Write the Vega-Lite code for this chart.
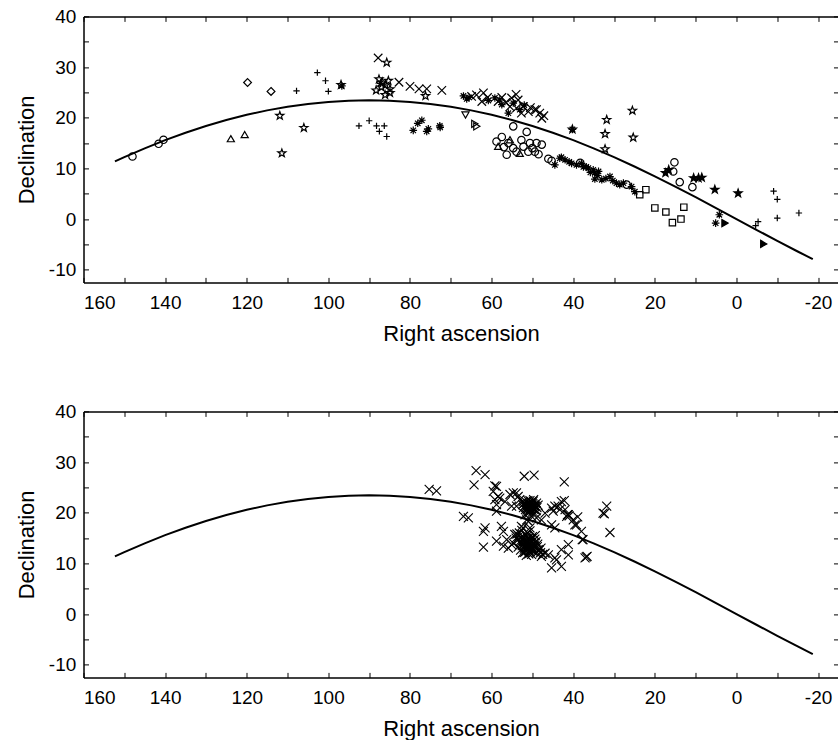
{
  "$schema": "https://vega.github.io/schema/vega-lite/v6.json",
  "padding": {"left": 14.5, "top": 7.4, "right": 0, "bottom": 0},
  "spacing": 57,
  "config": {
    "view": {"stroke": null},
    "font": "Liberation Sans",
    "axis": {
      "domainColor": "black", "domainWidth": 1.5, "tickColor": "black", "tickWidth": 1, "tickSize": -5,
      "labelColor": "black", "labelFontSize": 19, "titleColor": "black", "titleFontSize": 22,
      "titleFontWeight": "normal", "grid": false, "labelOverlap": false,
      "labelFont": "Liberation Sans", "titleFont": "Liberation Sans"
    }
  },
  "datasets": {
    "curve": [
      {"ra":152.3,"dec":11.39},{"ra":150,"dec":12.23},{"ra":145,"dec":13.96},{"ra":140,"dec":15.57},{"ra":135,"dec":17.04},
      {"ra":130,"dec":18.37},{"ra":125,"dec":19.55},{"ra":120,"dec":20.57},{"ra":115,"dec":21.45},{"ra":110,"dec":22.17},
      {"ra":105,"dec":22.72},{"ra":100,"dec":23.12},{"ra":95,"dec":23.36},{"ra":90,"dec":23.44},{"ra":85,"dec":23.36},
      {"ra":80,"dec":23.12},{"ra":75,"dec":22.72},{"ra":70,"dec":22.17},{"ra":65,"dec":21.45},{"ra":60,"dec":20.57},
      {"ra":55,"dec":19.55},{"ra":50,"dec":18.37},{"ra":45,"dec":17.04},{"ra":40,"dec":15.57},{"ra":35,"dec":13.96},
      {"ra":30,"dec":12.23},{"ra":25,"dec":10.38},{"ra":20,"dec":8.43},{"ra":15,"dec":6.40},{"ra":10,"dec":4.31},
      {"ra":5,"dec":2.16},{"ra":0,"dec":0},{"ra":-5,"dec":-2.16},{"ra":-10,"dec":-4.31},{"ra":-15,"dec":-6.40},{"ra":-18.7,"dec":-7.91}
    ],
    "top": [
      {"ra":148.0,"dec":12.35,"type":"circle"},{"ra":141.6,"dec":14.86,"type":"circle"},{"ra":140.4,"dec":15.65,"type":"circle"},
      {"ra":123.9,"dec":15.8,"type":"triup"},{"ra":120.5,"dec":16.6,"type":"triup"},
      {"ra":119.8,"dec":26.96,"type":"diamond"},{"ra":114.05,"dec":25.2,"type":"diamond"},
      {"ra":107.8,"dec":25.3,"type":"plus"},{"ra":102.7,"dec":28.9,"type":"plus"},{"ra":100.7,"dec":27.3,"type":"plus"},{"ra":100.0,"dec":25.2,"type":"plus"},
      {"ra":111.9,"dec":20.4,"type":"star"},{"ra":106.0,"dec":18.0,"type":"star"},{"ra":111.4,"dec":13.0,"type":"star"},{"ra":96.9,"dec":26.5,"type":"star"},{"ra":96.7,"dec":26.3,"type":"asterisk"},
      {"ra":92.5,"dec":18.4,"type":"plus"},{"ra":90.0,"dec":19.4,"type":"plus"},{"ra":88.2,"dec":18.4,"type":"plus"},{"ra":86.3,"dec":18.4,"type":"plus"},{"ra":87.5,"dec":17.3,"type":"plus"},{"ra":85.7,"dec":16.3,"type":"plus"},
      {"ra":87.8,"dec":31.8,"type":"x"},{"ra":85.7,"dec":30.9,"type":"star"},
      {"ra":87.6,"dec":27.6,"type":"star"},{"ra":86.8,"dec":27.0,"type":"star"},{"ra":88.3,"dec":25.4,"type":"star"},{"ra":86.0,"dec":26.45,"type":"star"},{"ra":84.9,"dec":25.66,"type":"star"},{"ra":86.1,"dec":24.5,"type":"star"},{"ra":84.9,"dec":24.9,"type":"star"},{"ra":76.2,"dec":24.3,"type":"star"},{"ra":87.0,"dec":26.0,"type":"star"},{"ra":85.3,"dec":27.3,"type":"star"},{"ra":87.2,"dec":26.8,"type":"asterisk"},
      {"ra":82.7,"dec":27.0,"type":"x"},{"ra":80.0,"dec":26.2,"type":"x"},{"ra":77.8,"dec":25.7,"type":"x"},{"ra":75.9,"dec":25.7,"type":"x"},{"ra":72.2,"dec":25.4,"type":"x"},
      {"ra":79.2,"dec":17.5,"type":"asterisk"},{"ra":78.1,"dec":18.9,"type":"asterisk"},{"ra":77.1,"dec":19.5,"type":"asterisk"},{"ra":75.5,"dec":17.8,"type":"asterisk"},{"ra":75.9,"dec":17.3,"type":"asterisk"},{"ra":72.7,"dec":18.4,"type":"asterisk"},{"ra":72.6,"dec":18.1,"type":"asterisk"},
      {"ra":66.9,"dec":24.3,"type":"asterisk"},{"ra":66.1,"dec":23.7,"type":"asterisk"},{"ra":60.8,"dec":23.4,"type":"asterisk"},{"ra":59.2,"dec":23.9,"type":"asterisk"},{"ra":57.5,"dec":22.6,"type":"asterisk"},{"ra":54.7,"dec":22.9,"type":"asterisk"},{"ra":53.1,"dec":21.6,"type":"asterisk"},{"ra":55.9,"dec":20.9,"type":"asterisk"},{"ra":65.5,"dec":24.0,"type":"asterisk"},{"ra":58.0,"dec":23.5,"type":"asterisk"},{"ra":52.0,"dec":22.5,"type":"asterisk"},
      {"ra":64.9,"dec":24.2,"type":"x"},{"ra":63.7,"dec":24.5,"type":"x"},{"ra":62.0,"dec":24.9,"type":"x"},{"ra":62.4,"dec":23.2,"type":"x"},{"ra":58.4,"dec":23.2,"type":"x"},{"ra":55.1,"dec":23.9,"type":"x"},{"ra":53.5,"dec":23.5,"type":"x"},{"ra":53.9,"dec":21.9,"type":"x"},{"ra":52.2,"dec":22.2,"type":"x"},{"ra":52.7,"dec":20.9,"type":"x"},{"ra":51.0,"dec":21.2,"type":"x"},{"ra":49.4,"dec":21.6,"type":"x"},{"ra":48.2,"dec":20.9,"type":"x"},{"ra":47.7,"dec":19.9,"type":"x"},{"ra":55.5,"dec":22.2,"type":"x"},{"ra":49.0,"dec":21.6,"type":"x"},{"ra":47.2,"dec":20.4,"type":"x"},{"ra":50.5,"dec":22.0,"type":"x"},{"ra":56.5,"dec":23.0,"type":"x"},{"ra":61.0,"dec":24.0,"type":"x"},{"ra":54.0,"dec":24.6,"type":"x"},{"ra":57.5,"dec":24.0,"type":"x"},
      {"ra":66.4,"dec":20.6,"type":"tridown"},
      {"ra":63.7,"dec":18.3,"type":"triright"},{"ra":64.2,"dec":18.8,"type":"triright"},
      {"ra":54.7,"dec":18.3,"type":"circle"},{"ra":51.4,"dec":17.2,"type":"circle"},{"ra":57.5,"dec":16.2,"type":"circle"},{"ra":58.8,"dec":15.3,"type":"circle"},{"ra":55.9,"dec":15.0,"type":"circle"},{"ra":54.7,"dec":14.0,"type":"circle"},{"ra":56.3,"dec":12.7,"type":"circle"},{"ra":52.7,"dec":15.6,"type":"circle"},{"ra":52.2,"dec":14.3,"type":"circle"},{"ra":50.6,"dec":15.0,"type":"circle"},{"ra":49.0,"dec":15.0,"type":"circle"},{"ra":47.7,"dec":14.7,"type":"circle"},{"ra":49.4,"dec":13.3,"type":"circle"},{"ra":51.0,"dec":13.3,"type":"circle"},{"ra":53.9,"dec":13.3,"type":"circle"},{"ra":46.1,"dec":11.9,"type":"circle"},{"ra":57.0,"dec":14.2,"type":"circle"},{"ra":50.0,"dec":14.0,"type":"circle"},{"ra":48.5,"dec":12.8,"type":"circle"},{"ra":45.3,"dec":11.5,"type":"circle"},{"ra":38.3,"dec":11.1,"type":"circle"},{"ra":26.9,"dec":6.8,"type":"circle"},
      {"ra":58.4,"dec":14.3,"type":"triup"},{"ra":53.1,"dec":12.9,"type":"triup"},{"ra":55.5,"dec":15.6,"type":"triup"},
      {"ra":40.2,"dec":17.7,"type":"star"},{"ra":40.2,"dec":17.7,"type":"asterisk"},
      {"ra":43.3,"dec":12.0,"type":"asterisk"},{"ra":44.5,"dec":10.7,"type":"asterisk"},{"ra":42.0,"dec":11.7,"type":"asterisk"},{"ra":40.4,"dec":11.0,"type":"asterisk"},{"ra":39.2,"dec":10.7,"type":"asterisk"},{"ra":38.0,"dec":11.0,"type":"asterisk"},{"ra":36.3,"dec":10.05,"type":"asterisk"},{"ra":42.9,"dec":12.2,"type":"asterisk"},{"ra":37.5,"dec":10.3,"type":"asterisk"},{"ra":35.1,"dec":9.7,"type":"asterisk"},{"ra":34.7,"dec":9.1,"type":"asterisk"},{"ra":33.8,"dec":9.4,"type":"asterisk"},{"ra":34.7,"dec":7.9,"type":"asterisk"},{"ra":33.0,"dec":7.75,"type":"asterisk"},{"ra":31.0,"dec":8.4,"type":"asterisk"},{"ra":29.4,"dec":7.1,"type":"asterisk"},{"ra":28.6,"dec":6.8,"type":"asterisk"},{"ra":27.7,"dec":7.1,"type":"asterisk"},{"ra":25.7,"dec":6.4,"type":"asterisk"},{"ra":24.9,"dec":5.4,"type":"asterisk"},{"ra":35.8,"dec":9.2,"type":"asterisk"},{"ra":34.0,"dec":8.6,"type":"asterisk"},{"ra":32.0,"dec":8.0,"type":"asterisk"},{"ra":30.3,"dec":7.6,"type":"asterisk"},{"ra":36.8,"dec":10.3,"type":"asterisk"},{"ra":41.0,"dec":11.3,"type":"asterisk"},
      {"ra":31.8,"dec":19.6,"type":"star"},{"ra":32.2,"dec":16.8,"type":"star"},{"ra":25.5,"dec":21.4,"type":"star"},{"ra":25.3,"dec":16.1,"type":"star"},{"ra":32.2,"dec":13.8,"type":"star"},
      {"ra":23.7,"dec":4.8,"type":"square"},{"ra":22.2,"dec":5.8,"type":"square"},{"ra":20.0,"dec":2.2,"type":"square"},{"ra":17.3,"dec":1.4,"type":"square"},{"ra":15.7,"dec":-0.7,"type":"square"},{"ra":13.6,"dec":0.0,"type":"square"},{"ra":12.9,"dec":2.35,"type":"square"},
      {"ra":15.2,"dec":11.2,"type":"circle"},{"ra":15.5,"dec":9.4,"type":"circle"},{"ra":13.9,"dec":7.3,"type":"circle"},{"ra":10.8,"dec":6.3,"type":"circle"},
      {"ra":17.4,"dec":9.1,"type":"starf"},{"ra":16.6,"dec":9.7,"type":"starf"},{"ra":10.5,"dec":8.1,"type":"starf"},{"ra":9.3,"dec":8.1,"type":"starf"},{"ra":8.5,"dec":8.2,"type":"starf"},{"ra":5.3,"dec":5.8,"type":"starf"},{"ra":-0.4,"dec":5.1,"type":"starf"},
      {"ra":4.2,"dec":0.85,"type":"asterisk"},{"ra":5.1,"dec":-0.8,"type":"asterisk"},
      {"ra":2.9,"dec":-0.8,"type":"trirightf"},{"ra":-6.6,"dec":-4.9,"type":"trirightf"},
      {"ra":-5.3,"dec":-0.5,"type":"plus"},{"ra":-4.7,"dec":-1.3,"type":"plus"},{"ra":-9.1,"dec":5.5,"type":"plus"},{"ra":-10.0,"dec":3.9,"type":"plus"},{"ra":-10.0,"dec":0.2,"type":"plus"},{"ra":-15.3,"dec":1.2,"type":"plus"}
    ],
    "bottom": [
      {"ra":75.3,"dec":24.6},{"ra":73.5,"dec":24.3},{"ra":63.8,"dec":28.3},{"ra":61.6,"dec":27.5},{"ra":64.3,"dec":25.5},{"ra":59.2,"dec":25.3},{"ra":52.0,"dec":27.2},{"ra":49.6,"dec":27.4},{"ra":42.2,"dec":26.1},
      {"ra":59.6,"dec":24.2},{"ra":58.4,"dec":23.2},{"ra":55.5,"dec":23.6},{"ra":53.9,"dec":23.9},{"ra":56.7,"dec":22.2},{"ra":58.8,"dec":21.6},{"ra":55.1,"dec":21.3},{"ra":58.8,"dec":20.3},
      {"ra":66.9,"dec":19.3},{"ra":65.7,"dec":19.0},{"ra":61.6,"dec":17.0},{"ra":62.0,"dec":16.3},{"ra":62.0,"dec":13.2},{"ra":57.6,"dec":17.3},{"ra":57.1,"dec":16.3},{"ra":58.8,"dec":14.4},{"ra":56.3,"dec":14.7},{"ra":55.1,"dec":13.7},{"ra":57.1,"dec":13.4},
      {"ra":52.7,"dec":17.3},{"ra":51.4,"dec":18.6},{"ra":50.6,"dec":17.0},{"ra":47.8,"dec":18.6},{"ra":45.3,"dec":17.6},{"ra":45.3,"dec":20.9},{"ra":43.7,"dec":21.3},{"ra":42.9,"dec":22.2},{"ra":42.0,"dec":20.6},{"ra":41.2,"dec":19.6},{"ra":40.0,"dec":18.6},{"ra":39.2,"dec":17.6},{"ra":38.0,"dec":16.3},{"ra":37.6,"dec":14.7},
      {"ra":31.8,"dec":21.3},{"ra":32.7,"dec":19.9},{"ra":31.0,"dec":16.1},{"ra":41.2,"dec":13.7},{"ra":42.9,"dec":12.7},{"ra":41.2,"dec":11.7},{"ra":36.8,"dec":11.3},{"ra":45.3,"dec":9.1},{"ra":42.9,"dec":9.4},{"ra":47.8,"dec":11.4},{"ra":46.1,"dec":11.7},{"ra":44.1,"dec":10.7},{"ra":48.6,"dec":12.7},
      {"ra":54.3,"dec":15.7},{"ra":53.5,"dec":23.2},{"ra":52.3,"dec":22.2},{"ra":46.9,"dec":19.9},{"ra":50.2,"dec":19.3},{"ra":59.2,"dec":22.6},{"ra":42.2,"dec":22.4},{"ra":44.5,"dec":21.3},{"ra":44.9,"dec":20.3},{"ra":43.3,"dec":20.6},{"ra":41.6,"dec":19.3},{"ra":38.9,"dec":19.2},{"ra":39.6,"dec":17.6},{"ra":37.8,"dec":14.7},{"ra":32.4,"dec":19.8},{"ra":44.5,"dec":17.0},{"ra":37.1,"dec":11.1},{"ra":36.6,"dec":11.4},{"ra":44.5,"dec":11.1},{"ra":46.9,"dec":12.0},
      {"ra":54.7,"dec":23.9},{"ra":53.1,"dec":22.6},{"ra":53.9,"dec":21.3},{"ra":58.0,"dec":22.9},{"ra":58.8,"dec":25.2},{"ra":55.9,"dec":13.0},{"ra":54.7,"dec":14.0},{"ra":52.3,"dec":17.0},{"ra":51.0,"dec":18.3},{"ra":49.0,"dec":19.0},{"ra":51.8,"dec":19.6},{"ra":41.4,"dec":19.6},{"ra":41.0,"dec":19.4},
      {"ra":51.2,"dec":21.8},{"ra":50.6,"dec":21.5},{"ra":50.0,"dec":21.0},{"ra":51.0,"dec":20.8},{"ra":49.6,"dec":21.6},{"ra":50.3,"dec":22.1},{"ra":51.5,"dec":21.2},{"ra":49.3,"dec":20.7},{"ra":50.7,"dec":20.3},{"ra":49.8,"dec":22.3},{"ra":51.1,"dec":22.4},{"ra":49.0,"dec":21.9},{"ra":51.7,"dec":20.6},{"ra":50.2,"dec":21.3},{"ra":50.5,"dec":20.8},{"ra":50.8,"dec":21.9},{"ra":49.5,"dec":21.2},{"ra":50.1,"dec":20.5},{"ra":51.4,"dec":21.6},{"ra":49.9,"dec":21.8},{"ra":48.6,"dec":21.5},{"ra":52.2,"dec":21.0},
      {"ra":50.4,"dec":21.6},{"ra":49.9,"dec":20.9},{"ra":50.9,"dec":21.1},{"ra":51.3,"dec":20.5},{"ra":49.4,"dec":21.4},{"ra":50.6,"dec":22.4},{"ra":51.9,"dec":21.9},{"ra":49.1,"dec":20.4},{"ra":50.0,"dec":20.1},{"ra":51.6,"dec":22.2},{"ra":50.8,"dec":20.0},{"ra":49.7,"dec":22.6},{"ra":52.4,"dec":21.6},{"ra":48.9,"dec":21.0},{"ra":51.1,"dec":21.4},
      {"ra":50.3,"dec":21.0},{"ra":50.9,"dec":21.7},{"ra":49.6,"dec":20.6},{"ra":51.4,"dec":20.9},{"ra":50.1,"dec":22.0},{"ra":49.2,"dec":21.3},{"ra":51.8,"dec":21.4},{"ra":50.6,"dec":20.6},
      {"ra":51.0,"dec":13.7},{"ra":51.8,"dec":14.2},{"ra":50.3,"dec":13.2},{"ra":52.5,"dec":13.5},{"ra":49.6,"dec":14.0},{"ra":51.2,"dec":15.0},{"ra":52.0,"dec":12.8},{"ra":50.5,"dec":14.6},{"ra":49.2,"dec":13.0},{"ra":53.0,"dec":14.4},{"ra":50.8,"dec":12.5},{"ra":51.5,"dec":13.0},{"ra":52.8,"dec":15.2},{"ra":49.9,"dec":12.4},{"ra":48.7,"dec":13.8},{"ra":51.7,"dec":15.6},{"ra":50.0,"dec":15.3},{"ra":53.5,"dec":13.2},{"ra":48.3,"dec":12.6},{"ra":52.3,"dec":14.8},{"ra":50.6,"dec":13.9},{"ra":51.3,"dec":14.3},{"ra":49.4,"dec":14.8},{"ra":52.1,"dec":13.9},{"ra":50.9,"dec":12.9},{"ra":51.9,"dec":12.2},{"ra":49.0,"dec":12.0},{"ra":53.2,"dec":16.0},{"ra":52.6,"dec":16.5},{"ra":54.0,"dec":15.0},{"ra":48.0,"dec":12.1},{"ra":47.5,"dec":11.8},{"ra":50.2,"dec":11.8},{"ra":51.5,"dec":11.6},
      {"ra":50.4,"dec":13.5},{"ra":51.6,"dec":13.8},{"ra":50.0,"dec":13.0},{"ra":52.2,"dec":14.5},{"ra":49.8,"dec":14.5},{"ra":51.0,"dec":14.9},{"ra":52.7,"dec":13.9},{"ra":50.7,"dec":12.2},{"ra":51.4,"dec":12.7},{"ra":49.5,"dec":13.6},{"ra":50.2,"dec":15.0},{"ra":53.6,"dec":14.6},{"ra":48.8,"dec":13.3},{"ra":52.9,"dec":12.6},{"ra":51.2,"dec":16.0},{"ra":50.6,"dec":16.4},{"ra":53.8,"dec":15.8},{"ra":49.3,"dec":15.5},{"ra":52.4,"dec":12.1},{"ra":47.9,"dec":13.0},
      {"ra":51.1,"dec":13.4},{"ra":50.5,"dec":14.2},{"ra":51.9,"dec":13.2},{"ra":50.1,"dec":12.7},{"ra":52.4,"dec":15.3},{"ra":49.7,"dec":13.3},{"ra":51.3,"dec":15.4},{"ra":52.9,"dec":14.1},{"ra":50.9,"dec":11.9},{"ra":49.1,"dec":14.3},{"ra":53.3,"dec":15.4},{"ra":51.6,"dec":12.4}
    ]
  },
  "vconcat": [
    {
      "width": 755, "height": 266,
      "resolve": {"axis": {"x": "independent", "y": "independent"}},
      "layer": [
        {
          "data": {"name": "curve"},
          "mark": {"type": "line", "color": "black", "strokeWidth": 2},
          "encoding": {
            "x": {"field": "ra", "type": "quantitative", "scale": {"domain": [160, -25], "nice": false, "zero": false},
                  "axis": {"orient": "top", "labels": false, "title": null, "values": [160,150,140,130,120,110,100,90,80,70,60,50,40,30,20,10,0,-10,-20]}},
            "y": {"field": "dec", "type": "quantitative", "scale": {"domain": [-12.5, 40], "nice": false, "zero": false},
                  "axis": {"orient": "right", "labels": false, "title": null, "values": [-10,-5,0,5,10,15,20,25,30,35,40]}}
          }
        },
        {
          "data": {"name": "top"},
          "mark": {"type": "point", "stroke": "black", "strokeWidth": 1.2, "opacity": 1, "size": 72},
          "encoding": {
            "x": {"field": "ra", "type": "quantitative",
                  "axis": {"orient": "bottom", "title": "Right ascension", "values": [160,150,140,130,120,110,100,90,80,70,60,50,40,30,20,10,0,-10,-20],
                           "labelExpr": "datum.value % 20 === 0 ? '' + datum.value : ''", "labelPadding": 16.3, "titlePadding": 10.8}},
            "y": {"field": "dec", "type": "quantitative",
                  "axis": {"orient": "left", "title": "Declination", "values": [-10,-5,0,5,10,15,20,25,30,35,40],
                           "labelExpr": "datum.value % 10 === 0 ? '' + datum.value : ''", "labelPadding": 12.7, "titlePadding": 10}},
            "shape": {"field": "type", "type": "nominal", "legend": null,
                      "scale": {"domain": ["circle","diamond","triup","tridown","triright","trirightf","square","plus","x","asterisk","star","starf"],
                                "range": [
                                  "M0.875,0A0.875,0.875 0 1,1 -0.875,0A0.875,0.875 0 1,1 0.875,0Z",
                                  "M0,-0.92L0.92,0L0,0.92L-0.92,0Z",
                                  "M0,-0.8L0.84,0.65L-0.84,0.65Z",
                                  "M0,0.8L0.84,-0.65L-0.84,-0.65Z",
                                  "M0.8,0L-0.65,0.84L-0.65,-0.84Z",
                                  "M0.8,0L-0.65,0.84L-0.65,-0.84Z",
                                  "M-0.75,-0.75L0.75,-0.75L0.75,0.75L-0.75,0.75Z",
                                  "M-0.75,0L0.75,0M0,-0.75L0,0.75",
                                  "M-1,-1L1,1M-1,1L1,-1",
                                  "M-0.9,0L0.9,0M0,-0.9L0,0.9M-0.64,-0.64L0.64,0.64M-0.64,0.64L0.64,-0.64",
                                  "M0,-1L0.235,-0.324L0.951,-0.309L0.38,0.124L0.588,0.809L0,0.4L-0.588,0.809L-0.38,0.124L-0.951,-0.309L-0.235,-0.324Z",
                                  "M0,-1L0.235,-0.324L0.951,-0.309L0.38,0.124L0.588,0.809L0,0.4L-0.588,0.809L-0.38,0.124L-0.951,-0.309L-0.235,-0.324Z"
                                ]}},
            "fill": {"field": "type", "type": "nominal", "legend": null,
                     "scale": {"domain": ["circle","diamond","triup","tridown","triright","trirightf","square","plus","x","asterisk","star","starf"],
                               "range": ["transparent","transparent","transparent","transparent","transparent","black","transparent","transparent","transparent","transparent","transparent","black"]}}
          }
        }
      ]
    },
    {
      "width": 755, "height": 266,
      "resolve": {"axis": {"x": "independent", "y": "independent"}},
      "layer": [
        {
          "data": {"name": "curve"},
          "mark": {"type": "line", "color": "black", "strokeWidth": 2},
          "encoding": {
            "x": {"field": "ra", "type": "quantitative", "scale": {"domain": [160, -25], "nice": false, "zero": false},
                  "axis": {"orient": "top", "labels": false, "title": null, "values": [160,150,140,130,120,110,100,90,80,70,60,50,40,30,20,10,0,-10,-20]}},
            "y": {"field": "dec", "type": "quantitative", "scale": {"domain": [-12.5, 40], "nice": false, "zero": false},
                  "axis": {"orient": "right", "labels": false, "title": null, "values": [-10,-5,0,5,10,15,20,25,30,35,40]}}
          }
        },
        {
          "data": {"name": "bottom"},
          "mark": {"type": "point", "stroke": "black", "strokeWidth": 1.1, "opacity": 1, "size": 81, "fill": "transparent",
                   "shape": "M-1,-1L1,1M-1,1L1,-1"},
          "encoding": {
            "x": {"field": "ra", "type": "quantitative",
                  "axis": {"orient": "bottom", "title": "Right ascension", "values": [160,150,140,130,120,110,100,90,80,70,60,50,40,30,20,10,0,-10,-20],
                           "labelExpr": "datum.value % 20 === 0 ? '' + datum.value : ''", "labelPadding": 16.3, "titlePadding": 10.8}},
            "y": {"field": "dec", "type": "quantitative",
                  "axis": {"orient": "left", "title": "Declination", "values": [-10,-5,0,5,10,15,20,25,30,35,40],
                           "labelExpr": "datum.value % 10 === 0 ? '' + datum.value : ''", "labelPadding": 12.7, "titlePadding": 10}}
          }
        }
      ]
    }
  ]
}
